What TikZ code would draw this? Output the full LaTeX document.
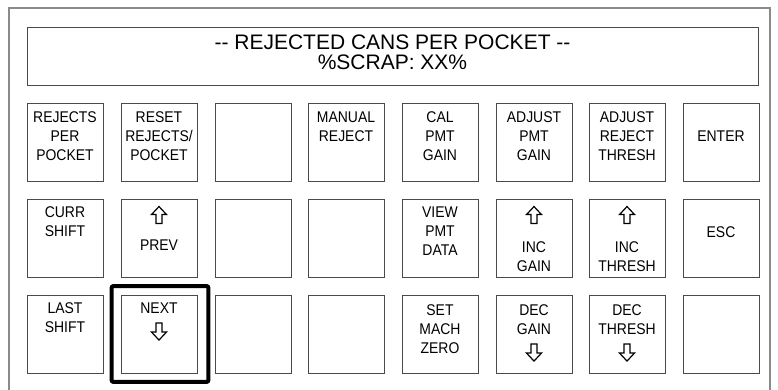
\documentclass[tikz,border=0pt]{standalone}
\usepackage{fontspec}
\setmainfont{Liberation Sans}
\newfontfamily\keyfont[FakeStretch=0.9]{Liberation Sans}
\usetikzlibrary{positioning, calc}
\definecolor{keyline}{HTML}{4A4A4A}
\definecolor{frameline}{HTML}{8A8A8A}

\tikzset{
	upArrow/.pic={\draw[line width=1.2pt, fill=white] (0,0) -- (7.5,8) -- (3,8) -- (3,17) -- (-3,17) -- (-3,8) -- (-7.5,8) -- cycle;},
	downArrow/.pic={\draw[line width=1.2pt, fill=white] (-3,0) -- (3,0) -- (3,9) -- (7.5,9) -- (0,17) -- (-7.5,9) -- (-3,9) -- cycle;}
}

\begin{document}
\begin{tikzpicture}[x=1pt, y=-1pt,
	key/.style={draw=keyline, line width=0.9pt, rectangle, minimum width=76pt, minimum height=78pt, inner sep=0pt},
	keytext/.style={font=\keyfont\fontsize{15.5}{19}\selectfont, align=center, anchor=north, inner sep=0pt},
	display/.style={draw=keyline, line width=0.9pt, rectangle, minimum width=731pt, minimum height=58pt, inner sep=0pt},
	titletext/.style={font=\fontsize{21}{20}\selectfont, align=center, inner sep=0pt},
	highlight/.style={draw=black, line width=4pt, rounded corners=2pt}]
	
	\useasboundingbox (0,0) rectangle (778,390);
	
	%Panel frame
	\draw[frameline, line width=1.5pt] (9,395) -- (9,8) -- (770,8) -- (770,395);
	
	%Display
	\node (display) at (392.5,56) [display]{};
	\node (displayText) at (392.5,52.5) [titletext]{-{}- REJECTED CANS PER POCKET -{}-\\ \%SCRAP: XX\%};
	
	%Rejects per pocket
	\node (rejectsPerPocket) at (65,142) [key]{};
	\node (rejectsPerPocketText) at ([yshift=-9pt]rejectsPerPocket.north) [keytext]{REJECTS\\ PER\\ POCKET};
	
	%Reset rejects/pocket
	\node (resetRejects) at (159,142) [key]{};
	\node (resetRejectsText) at ([yshift=-9pt]resetRejects.north) [keytext]{RESET\\ REJECTS/\\ POCKET};
	
	%Blank
	\node (blankOneThree) at (253,142) [key]{};
	
	%Manual reject
	\node (manualReject) at (346,142) [key]{};
	\node (manualRejectText) at ([yshift=-9pt]manualReject.north) [keytext]{MANUAL\\ REJECT};
	
	%Cal PMT gain
	\node (calPmtGain) at (440,142) [key]{};
	\node (calPmtGainText) at ([yshift=-9pt]calPmtGain.north) [keytext]{CAL\\ PMT\\ GAIN};
	
	%Adjust PMT gain
	\node (adjustPmtGain) at (534,142) [key]{};
	\node (adjustPmtGainText) at ([yshift=-9pt]adjustPmtGain.north) [keytext]{ADJUST\\ PMT\\ GAIN};
	
	%Adjust reject thresh
	\node (adjustRejectThresh) at (627,142) [key]{};
	\node (adjustRejectThreshText) at ([yshift=-9pt]adjustRejectThresh.north) [keytext]{ADJUST\\ REJECT\\ THRESH};
	
	%Enter
	\node (enterKey) at (721,142) [key]{};
	\node (enterKeyText) at ([yshift=-28pt]enterKey.north) [keytext]{ENTER};
	
	%Curr shift
	\node (currShift) at (65,238) [key]{};
	\node (currShiftText) at ([yshift=-8pt]currShift.north) [keytext]{CURR\\ SHIFT};
	
	%Prev
	\node (prevKey) at (159,238) [key]{};
	\pic at ([yshift=-8pt]prevKey.north) {upArrow};
	\node (prevKeyText) at ([yshift=-41pt]prevKey.north) [keytext]{PREV};
	
	%Blanks
	\node (blankTwoThree) at (253,238) [key]{};
	\node (blankTwoFour) at (346,238) [key]{};
	
	%View PMT data
	\node (viewPmtData) at (440,238) [key]{};
	\node (viewPmtDataText) at ([yshift=-8pt]viewPmtData.north) [keytext]{VIEW\\ PMT\\ DATA};
	
	%Inc gain
	\node (incGain) at (534,238) [key]{};
	\pic at ([yshift=-8pt]incGain.north) {upArrow};
	\node (incGainText) at ([yshift=-43pt]incGain.north) [keytext]{INC\\ GAIN};
	
	%Inc thresh
	\node (incThresh) at (627,238) [key]{};
	\pic at ([yshift=-8pt]incThresh.north) {upArrow};
	\node (incThreshText) at ([yshift=-43pt]incThresh.north) [keytext]{INC\\ THRESH};
	
	%Esc
	\node (escKey) at (721,238) [key]{};
	\node (escKeyText) at ([yshift=-28pt]escKey.north) [keytext]{ESC};
	
	%Last shift
	\node (lastShift) at (65,334.5) [key]{};
	\node (lastShiftText) at ([yshift=-7pt]lastShift.north) [keytext]{LAST\\ SHIFT};
	
	%Next
	\node (nextKey) at (159,334.5) [key]{};
	\node (nextKeyText) at ([yshift=-8pt]nextKey.north) [keytext]{NEXT};
	\pic at ([yshift=-28pt]nextKey.north) {downArrow};
	
	%Blanks
	\node (blankThreeThree) at (253,334.5) [key]{};
	\node (blankThreeFour) at (346,334.5) [key]{};
	
	%Set mach zero
	\node (setMachZero) at (440,334.5) [key]{};
	\node (setMachZeroText) at ([yshift=-9pt]setMachZero.north) [keytext]{SET\\ MACH\\ ZERO};
	
	%Dec gain
	\node (decGain) at (534,334.5) [key]{};
	\node (decGainText) at ([yshift=-9pt]decGain.north) [keytext]{DEC\\ GAIN};
	\pic at ([yshift=-49pt]decGain.north) {downArrow};
	
	%Dec thresh
	\node (decThresh) at (627,334.5) [key]{};
	\node (decThreshText) at ([yshift=-9pt]decThresh.north) [keytext]{DEC\\ THRESH};
	\pic at ([yshift=-49pt]decThresh.north) {downArrow};
	
	%Blank
	\node (blankThreeEight) at (721,334.5) [key]{};
	
	%Selected key
	\draw[highlight] ($(nextKey.north west)+(-9,-9)$) rectangle ($(nextKey.south east)+(11,8)$);
	
\end{tikzpicture}
\end{document}
